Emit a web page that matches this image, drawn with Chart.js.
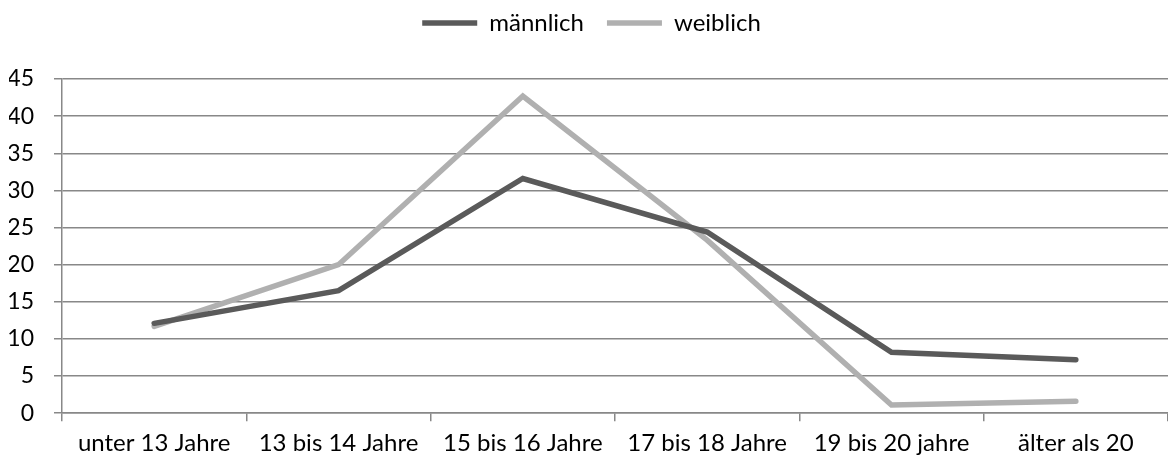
<!DOCTYPE html>
<html><head><meta charset="utf-8">
<script src="https://cdn.jsdelivr.net/npm/chart.js@4/dist/chart.umd.min.js"></script>
<style>html,body{margin:0;padding:0;background:#fff}#wrap{width:1168px;height:459px}</style>
</head><body><div id="wrap"><canvas id="c"></canvas></div>
<script>
const categories = ["unter 13 Jahre","13 bis 14 Jahre","15 bis 16 Jahre","17 bis 18 Jahre","19 bis 20 jahre","älter als 20"];
const maennlich = [12.1, 16.5, 31.6, 24.4, 8.2, 7.2];
const weiblich = [11.7, 20.0, 42.7, 23.3, 1.1, 1.6];
const yTicks = [0,5,10,15,20,25,30,35,40,45];

const FONT = "Lato, 'Liberation Sans', sans-serif";
Chart.defaults.font.family = FONT;
Chart.defaults.font.size = 24;
Chart.defaults.color = "#000";

const LEGEND_TOP = -12;
const legendFix = {
  id: 'legendFix',
  beforeLayout(chart) {
    const lg = chart.legend;
    if (lg && !lg._patched) {
      const f = lg.fit;
      lg.fit = function() { f.call(this); this.height = 79 - LEGEND_TOP; };
      lg._patched = true;
    }
  }
};

new Chart(document.getElementById('c'), {
  type: 'line',
  data: {
    labels: categories,
    datasets: [
      {label: 'männlich', data: maennlich, borderColor: '#5a5a5a', backgroundColor: '#5a5a5a', borderWidth: 5.5, pointRadius: 0, tension: 0, borderCapStyle: 'round', borderJoinStyle: 'miter'},
      {label: 'weiblich', data: weiblich, borderColor: '#b0b0b0', backgroundColor: '#b0b0b0', borderWidth: 5.5, pointRadius: 0, tension: 0, borderCapStyle: 'round', borderJoinStyle: 'miter'}
    ]
  },
  plugins: [legendFix],
  options: {
    responsive: true, maintainAspectRatio: false, animation: false,
    layout: {padding: {left: 9, right: -6, top: LEGEND_TOP, bottom: -7}},
    plugins: {
      tooltip: {enabled: false},
      legend: {
        position: 'top',
        labels: {usePointStyle: true, pointStyle: 'line', pointStyleWidth: 55, padding: 23, font: {size: 24, family: FONT}, color: '#000'}
      }
    },
    scales: {
      x: {
        offset: true,
        grid: {offset: true, drawOnChartArea: false, color: '#888888', tickLength: 8, tickColor: '#888888', lineWidth: 1.5},
        border: {color: '#888888', width: 1.5},
        ticks: {padding: 8, maxRotation: 0, autoSkip: false, font: {size: 24}}
      },
      y: {
        min: 0, max: 45,
        afterBuildTicks: (axis) => { axis.ticks = yTicks.map(v => ({value: v})); },
        afterFit: (axis) => { axis.width = 53; },
        grid: {color: '#888888', tickLength: 8, tickColor: '#888888', lineWidth: 1.5},
        border: {color: '#888888', width: 1.5},
        ticks: {padding: 20, font: {size: 23}}
      }
    }
  }
});
</script></body></html>
